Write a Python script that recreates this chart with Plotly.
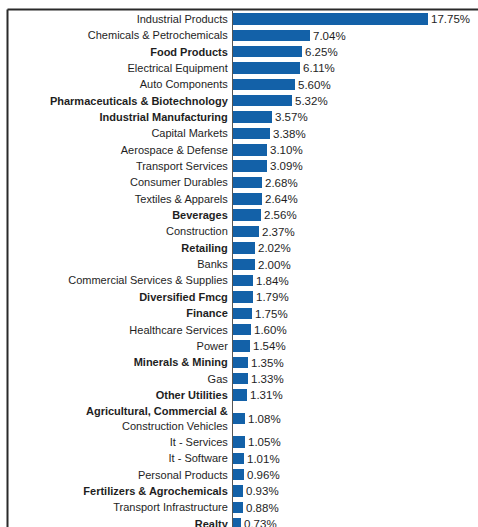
import plotly.graph_objects as go

# Sector allocation, largest first
sectors = [
    "Industrial Products", "Chemicals & Petrochemicals", "Food Products",
    "Electrical Equipment", "Auto Components", "Pharmaceuticals & Biotechnology",
    "Industrial Manufacturing", "Capital Markets", "Aerospace & Defense",
    "Transport Services", "Consumer Durables", "Textiles & Apparels",
    "Beverages", "Construction", "Retailing", "Banks",
    "Commercial Services & Supplies", "Diversified Fmcg", "Finance",
    "Healthcare Services", "Power", "Minerals & Mining", "Gas",
    "Other Utilities", "Agricultural, Commercial &<br>Construction Vehicles",
    "It - Services", "It - Software", "Personal Products",
    "Fertilizers & Agrochemicals", "Transport Infrastructure", "Realty",
]
weights = [
    17.75, 7.04, 6.25, 6.11, 5.60, 5.32, 3.57, 3.38, 3.10, 3.09, 2.68, 2.64,
    2.56, 2.37, 2.02, 2.00, 1.84, 1.79, 1.75, 1.60, 1.54, 1.35, 1.33, 1.31,
    1.08, 1.05, 1.01, 0.96, 0.93, 0.88, 0.73,
]
bold_sectors = {
    "Food Products", "Pharmaceuticals & Biotechnology", "Industrial Manufacturing",
    "Beverages", "Retailing", "Diversified Fmcg", "Finance", "Minerals & Mining",
    "Other Utilities", "Fertilizers & Agrochemicals", "Realty",
}

W, H = 478, 527
LEFT = 233          # x pixel of the category axis
TOP = 11            # y pixel where the plot area starts
ROW = 16.35         # pixel height of a single-line row
FIRST_ROW_Y = 19    # pixel centre of the first row
TWO_LINE_ROW = 1.87 # relative height of a wrapped row

# Row centres: wrapped labels get a taller row
heights = [TWO_LINE_ROW if "<br>" in s else 1.0 for s in sectors]
pos = []
acc = 0.0
for i, h in enumerate(heights):
    if i > 0:
        acc += (heights[i - 1] + h) / 2
    pos.append(acc)

y_top = pos[0] - (FIRST_ROW_Y - TOP) / ROW
y_bottom = y_top + (H - TOP) / ROW

px_per_pct = 11.0
x_max = (W - LEFT) / px_per_pct


def tick_label(s):
    if "<br>" in s:
        first, second = s.split("<br>")
        return f"<b>{first}</b><br>{second}"
    return f"<b>{s}</b>" if s in bold_sectors else s


ticktext = [tick_label(s) for s in sectors]

font_family = "Liberation Sans, Arial, sans-serif"
text_color = "#1e1e1e"

fig = go.Figure(
    go.Bar(
        x=weights,
        y=pos,
        orientation="h",
        width=0.7,
        marker=dict(color="#1361A8", line=dict(width=0)),
        text=[f"{v:.2f}%" for v in weights],
        textposition="outside",
        constraintext="none",
        textfont=dict(family=font_family, size=11.5, color=text_color),
        cliponaxis=False,
        hoverinfo="skip",
    )
)

# Thin frame along the top and left edges of the panel
frame_color = "#2a2a2a"
plot_h = H - TOP
fx = (7.5 - LEFT) / (W - LEFT)
fy = (H - 9.5) / plot_h
fig.add_shape(type="line", xref="paper", yref="paper", layer="above",
              x0=fx, x1=1.02, y0=fy, y1=fy,
              line=dict(color=frame_color, width=2))
fig.add_shape(type="line", xref="paper", yref="paper", layer="above",
              x0=fx, x1=fx, y0=fy, y1=-0.02,
              line=dict(color=frame_color, width=2))

fig.update_layout(
    width=W,
    height=H,
    margin=dict(l=LEFT, r=0, t=TOP, b=0, autoexpand=False),
    paper_bgcolor="white",
    plot_bgcolor="white",
    showlegend=False,
    bargap=0,
    xaxis=dict(range=[0, x_max], visible=False, fixedrange=True),
    yaxis=dict(
        range=[y_bottom, y_top],
        tickvals=pos,
        ticktext=ticktext,
        tickfont=dict(family=font_family, size=11, color=text_color),
        showline=True,
        linecolor="#555555",
        linewidth=1,
        showgrid=False,
        zeroline=False,
        ticks="",
        ticklabelstandoff=2,
        ticklabeloverflow="allow",
        fixedrange=True,
    ),
)

fig.write_html("out.html")
